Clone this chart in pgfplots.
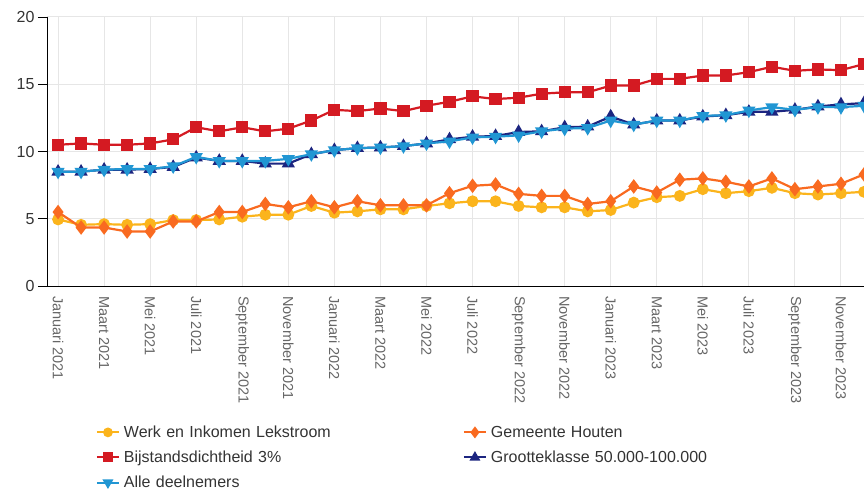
\documentclass[border=0pt]{standalone}
\usepackage{fontspec}
\setmainfont{Liberation Sans}
\usepackage{pgfplots}
\usepackage{pgfplotstable}
\pgfplotsset{compat=1.18}
\usetikzlibrary{calc}

\definecolor{cwil}{HTML}{FBB41C}
\definecolor{chou}{HTML}{F96A20}
\definecolor{cbij}{HTML}{D41A22}
\definecolor{cgrt}{HTML}{1C2580}
\definecolor{call}{HTML}{2196D3}
\definecolor{gridgray}{HTML}{E6E6E6}
\definecolor{txtgray}{HTML}{666666}
\definecolor{txtdark}{HTML}{333333}

% maanden 0 = januari 2021 ... 35 = december 2023
\pgfplotstableread{
i   wil   hou   bij    grt    all
0   4.95  5.5   10.5   8.5    8.5
1   4.55  4.35  10.6   8.5    8.5
2   4.6   4.35  10.5   8.65   8.65
3   4.55  4.05  10.5   8.65   8.7
4   4.6   4.05  10.6   8.7    8.7
5   4.9   4.8   10.9   8.85   8.9
6   4.9   4.8   11.8   9.55   9.6
7   4.95  5.5   11.5   9.3    9.3
8   5.15  5.5   11.8   9.3    9.3
9   5.3   6.1   11.5   9.1    9.3
10  5.3   5.85  11.7   9.1    9.45
11  5.95  6.3   12.3   9.8    9.8
12  5.45  5.85  13.1   10.1   10.1
13  5.55  6.3   13.0   10.25  10.25
14  5.7   6.0   13.2   10.3   10.3
15  5.7   6.0   13.0   10.4   10.4
16  5.95  6.0   13.4   10.6   10.6
17  6.15  6.9   13.7   10.9   10.75
18  6.3   7.45  14.1   11.1   11.05
19  6.3   7.55  13.9   11.15  11.1
20  5.95  6.85  14.0   11.45  11.2
21  5.85  6.7   14.3   11.5   11.5
22  5.85  6.7   14.4   11.8   11.7
23  5.55  6.1   14.4   11.85  11.75
24  5.65  6.3   14.9   12.6   12.3
25  6.2   7.4   14.9   12.0   12.0
26  6.6   6.95  15.4   12.3   12.3
27  6.7   7.9   15.4   12.3   12.3
28  7.2   8.0   15.65  12.6   12.65
29  6.9   7.75  15.65  12.7   12.7
30  7.05  7.4   15.9   12.95  13.05
31  7.3   8.0   16.3   12.95  13.3
32  6.9   7.2   16.0   13.1   13.1
33  6.8   7.4   16.1   13.35  13.3
34  6.9   7.6   16.05  13.5   13.3
35  7.0   8.3   16.5   13.6   13.4
}\data

\begin{document}
\begin{tikzpicture}
\begin{axis}[
    scale only axis,
    width=817pt, height=269pt,
    xmin=-0.48, xmax=35, ymin=0, ymax=20,
    axis x line*=bottom, axis y line*=left,
    axis line style={black, line width=0.9pt},
    xtick={0,2,...,34},
    xticklabels={Januari 2021,Maart 2021,Mei 2021,Juli 2021,September 2021,November 2021,
                 Januari 2022,Maart 2022,Mei 2022,Juli 2022,September 2022,November 2022,
                 Januari 2023,Maart 2023,Mei 2023,Juli 2023,September 2023,November 2023},
    x tick label style={rotate=-90, anchor=west, text=txtgray, inner sep=1pt,
        font=\fontsize{14.5}{14.5}\selectfont},
    xtick style={draw=none},
    ytick={0,5,10,15,20},
    y tick label style={text=txtdark, font=\fontsize{16}{16}\selectfont},
    ytick style={black, line width=0.9pt},
    tick align=outside, major tick length=9pt,
    /pgf/number format/assume math mode=true,
    grid=major,
    major grid style={gridgray, line width=1pt},
    clip marker paths=true,
    every axis plot/.append style={line width=2.2pt},
    legend columns=2,
    legend cell align=left,
    legend style={draw=none, fill=none,
        at={(axis description cs:0.056,-0.508)}, anchor=north west,
        font=\fontsize{16}{16}\selectfont, text=txtdark,
        row sep=10pt,
        nodes={text width=335pt, align=left, inner xsep=4pt, inner ysep=1pt}},
    legend image code/.code={
        \draw[mark repeat=2, mark phase=2, line width=2pt, every mark/.append style={scale=0.8}]
            plot coordinates {(0pt,0pt) (11pt,0pt) (22pt,0pt)};},
]
\coordinate (sw) at (rel axis cs:0,0);
\addplot[cwil, mark=*, mark size=4.8pt] table[x=i, y=wil] {\data};
\addlegendentry{Werk en Inkomen Lekstroom}
\addplot[chou, mark=diamond*, mark size=5.5pt] table[x=i, y=hou] {\data};
\addlegendentry{Gemeente Houten}
\addplot[cbij, mark=square*, mark size=5pt] table[x=i, y=bij] {\data};
\addlegendentry{Bijstandsdichtheid 3\%}
\addplot[cgrt, mark=triangle*, mark size=5.5pt] table[x=i, y=grt] {\data};
\addlegendentry{Grootteklasse 50.000-100.000}
\addplot[call, mark=triangle*, mark size=5.5pt, mark options={rotate=180}] table[x=i, y=all] {\data};
\addlegendentry{Alle deelnemers}
\end{axis}
\pgfresetboundingbox
\path[use as bounding box] ($(sw)+(-47pt,-206pt)$) rectangle ($(sw)+(817pt,286pt)$);
\end{tikzpicture}
\end{document}
